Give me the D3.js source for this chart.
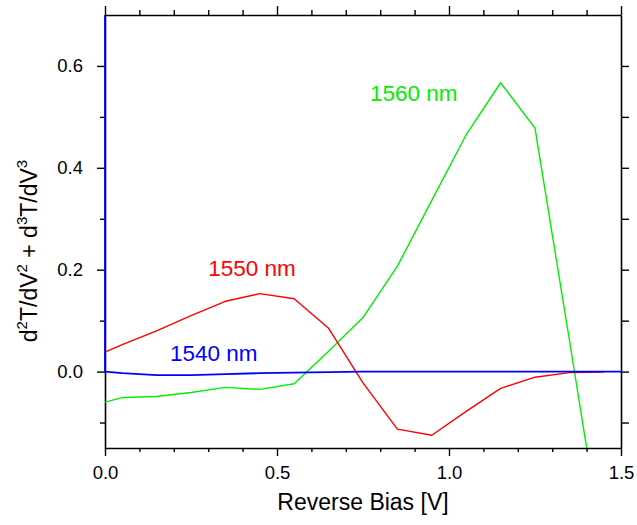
<!DOCTYPE html>
<html><head><meta charset="utf-8">
<script src="https://cdn.jsdelivr.net/npm/d3@7"></script>
<style>
html,body{margin:0;padding:0;background:#fff;}
svg{display:block;font-family:"Liberation Sans",Arial,sans-serif;}
</style></head>
<body>
<svg id="chart" width="637" height="525"></svg>
<script>
// ---- data ----
const bias = [0, 0.05, 0.15, 0.25, 0.35, 0.45, 0.55, 0.65, 0.75, 0.85, 0.95, 1.05, 1.15, 1.25, 1.35, 1.45];
const nm1560 = [-0.060, -0.051, -0.049, -0.041, -0.031, -0.035, -0.024, 0.040, 0.106, 0.207, 0.336, 0.465, 0.567, 0.478, 0.062, -0.360];
const nm1550 = [0.038, 0.053, 0.080, 0.110, 0.138, 0.153, 0.143, 0.085, -0.022, -0.113, -0.125, -0.078, -0.033, -0.011, -0.002, -0.001];
const bias1540 = [0, 0, 0.05, 0.15, 0.25, 0.35, 0.45, 0.55, 0.65, 0.75, 0.85, 0.95, 1.05, 1.15, 1.25, 1.35, 1.45, 1.5];
const nm1540 = [0.80, 0.0, -0.003, -0.007, -0.007, -0.005, -0.003, -0.002, -0.001, 0, 0, 0, 0, 0, 0, 0, 0, 0];
const xMajor = [0, 0.5, 1.0, 1.5];
const xMinor = [0.1, 0.2, 0.3, 0.4, 0.6, 0.7, 0.8, 0.9, 1.1, 1.2, 1.3, 1.4];
const yMajor = [0.0, 0.2, 0.4, 0.6];
const yMinor = [-0.1, 0.1, 0.3, 0.5];
const labels = [
  {text: "1560 nm", x: 0.770, y: 0.532, color: "#00ee00"},
  {text: "1550 nm", x: 0.300, y: 0.187, color: "#ff0000"},
  {text: "1540 nm", x: 0.189, y: 0.021, color: "#0000ff"}
];

// ---- layout ----
const svg = d3.select("#chart");
const m = {left: 105, top: 15, right: 16, bottom: 77};
const W = 637 - m.left - m.right, H = 525 - m.top - m.bottom;
const x = d3.scaleLinear().domain([0, 1.5]).range([0, W]);
const y = d3.scaleLinear().domain([-0.15, 0.7]).range([H, 0]);
const g = svg.append("g").attr("transform", `translate(${m.left},${m.top})`);

g.append("clipPath").attr("id", "clip").append("rect")
  .attr("x", -3).attr("y", 0).attr("width", W + 6).attr("height", H);

function styleAxis(sel) {
  sel.select(".domain").attr("stroke", "#000").attr("stroke-width", 1.6);
  sel.selectAll(".tick line").attr("stroke", "#000").attr("stroke-width", 1.4);
  sel.selectAll(".tick text").attr("font-size", "18.5px").attr("fill", "#000")
    .attr("font-family", "'Liberation Sans',Arial,sans-serif");
}

// bottom
g.append("g").attr("transform", `translate(0,${H})`)
  .call(d3.axisBottom(x).tickValues(xMajor).tickSize(8).tickSizeOuter(0).tickPadding(10).tickFormat(d3.format(".1f")))
  .call(styleAxis);
g.append("g").attr("transform", `translate(0,${H})`)
  .call(d3.axisBottom(x).tickValues(xMinor).tickSize(4).tickFormat(""))
  .call(styleAxis).select(".domain").remove();
// top
g.append("g")
  .call(d3.axisTop(x).tickValues(xMajor).tickSize(9).tickSizeOuter(0).tickFormat(""))
  .call(styleAxis);
g.append("g")
  .call(d3.axisTop(x).tickValues(xMinor).tickSize(5).tickFormat(""))
  .call(styleAxis).select(".domain").remove();
// left
g.append("g")
  .call(d3.axisLeft(y).tickValues(yMajor).tickSize(8).tickSizeOuter(0).tickPadding(14).tickFormat(d3.format(".1f")))
  .call(styleAxis);
g.append("g")
  .call(d3.axisLeft(y).tickValues(yMinor).tickSize(5).tickFormat(""))
  .call(styleAxis).select(".domain").remove();
// right
g.append("g").attr("transform", `translate(${W},0)`)
  .call(d3.axisRight(y).tickValues(yMajor).tickSize(8).tickSizeOuter(0).tickFormat(""))
  .call(styleAxis);
g.append("g").attr("transform", `translate(${W},0)`)
  .call(d3.axisRight(y).tickValues(yMinor).tickSize(8).tickFormat(""))
  .call(styleAxis).select(".domain").remove();

// lines
const line = d3.line().x(d => x(d[0])).y(d => y(d[1]));
const series = [
  {xs: bias, ys: nm1560, color: "#00ee00", w: 1.4},
  {xs: bias, ys: nm1550, color: "#ff0000", w: 1.4},
  {xs: bias1540, ys: nm1540, color: "#0000ff", w: 1.8}
];
const lg = g.append("g").attr("clip-path", "url(#clip)");
series.forEach(s => {
  lg.append("path").datum(d3.zip(s.xs, s.ys))
    .attr("fill", "none").attr("stroke", s.color).attr("stroke-width", s.w)
    .attr("stroke-linejoin", "round").attr("d", line);
});

// annotations
g.selectAll("text.lbl").data(labels).join("text").attr("class", "lbl")
  .attr("x", d => x(d.x)).attr("y", d => y(d.y))
  .attr("fill", d => d.color).attr("font-size", "22.5px").text(d => d.text);

// axis titles
svg.append("text").attr("x", m.left + W / 2).attr("y", 510)
  .attr("text-anchor", "middle").attr("font-size", "23px").attr("fill", "#000")
  .text("Reverse Bias [V]");

const yt = svg.append("text").attr("transform", "translate(37,251) rotate(-90)")
  .attr("text-anchor", "middle").attr("font-size", "23px").attr("fill", "#000");
const parts = [["d",0],["2",1],["T/dV",0],["2",1],[" + d",0],["3",1],["T/dV",0],["3",1]];
let raised = false;
parts.forEach(p => {
  const t = yt.append("tspan").text(p[0]);
  if (p[1]) { t.attr("font-size", "15px").attr("dy", -10); raised = true; }
  else if (raised) { t.attr("dy", 10); raised = false; }
});
</script>
</body></html>
